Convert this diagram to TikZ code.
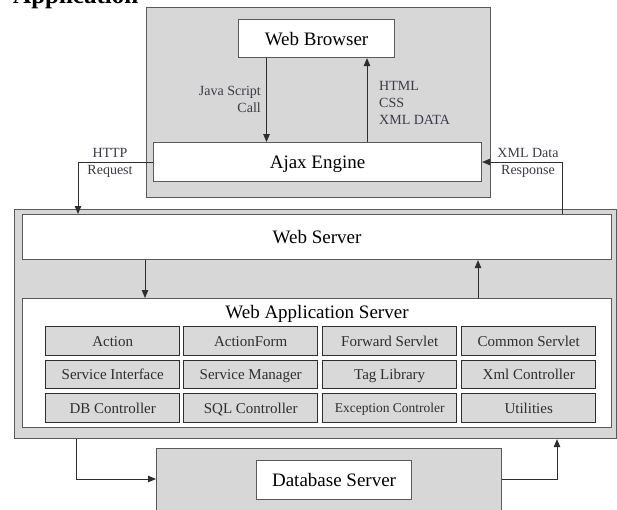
\documentclass[tikz,border=0pt]{standalone}
\usepackage{fontspec}
\setmainfont{Liberation Serif}
\usetikzlibrary{arrows.meta,calc}
\definecolor{panel}{HTML}{D7D7D7}
\definecolor{cellfill}{HTML}{D9D9D9}
\definecolor{edge}{HTML}{5A5A5A}
\definecolor{ink}{HTML}{2E2E2E}
\definecolor{lbl}{HTML}{3A3A48}
\tikzset{
  x=1pt, y=-1pt,
  panelbox/.style={draw=edge, line width=1.1pt, fill=panel, inner sep=0pt, anchor=north west},
  whitebox/.style={draw=edge, line width=1.1pt, fill=white, inner sep=0pt, anchor=north west,
    font=\fontsize{19}{22}\selectfont, text=black, text height=13pt, text depth=0pt},
  cellbox/.style={draw=ink, line width=1.4pt, fill=cellfill, inner sep=0pt, anchor=north west,
    minimum width=134pt, minimum height=28.5pt, font=\fontsize{15}{17}\selectfont, text=ink,
    text height=11pt, text depth=0pt},
  arr/.style={draw=ink, line width=0.9pt, -{Triangle[length=8pt,width=6.5pt]}},
  smalllbl/.style={font=\fontsize{14}{17}\selectfont, text=lbl, inner sep=0pt}
}
\begin{document}
\begin{tikzpicture}
\useasboundingbox (0,0) rectangle (617,509);
\clip (0,0) rectangle (617,509);

% caption running off the top edge
\node[anchor=base west, inner sep=0pt, font=\fontsize{25}{28}\selectfont\bfseries] (cap) at (13,3) {Application};

% client side
\node[panelbox, minimum width=344pt, minimum height=190pt] (client) at (146,7) {};
\node[whitebox, minimum width=156pt, minimum height=38pt] (wb) at (238,19) {Web Browser};
\node[whitebox, minimum width=328pt, minimum height=39pt] (ajax) at (153,142) {Ajax Engine};

% server side
\node[panelbox, minimum width=602pt, minimum height=229pt] (srv) at (14,209) {};
\node[whitebox, minimum width=589pt, minimum height=45pt] (ws) at (22,214) {Web Server};
\node[whitebox, minimum width=589pt, minimum height=129pt] (was) at (22,298) {};
\node[font=\fontsize{19}{22}\selectfont, inner sep=0pt, text height=13pt, text depth=0pt] (wastitle) at (317,312) {Web Application Server};

% component grid
\node[cellbox] (c11) at (45,326) {Action};
\node[cellbox] (c12) at (183,326) {ActionForm};
\node[cellbox] (c13) at (322,326) {Forward Servlet};
\node[cellbox] (c14) at (461,326) {Common Servlet};
\node[cellbox] (c21) at (45,359.5) {Service Interface};
\node[cellbox] (c22) at (183,359.5) {Service Manager};
\node[cellbox] (c23) at (322,359.5) {Tag Library};
\node[cellbox] (c24) at (461,359.5) {Xml Controller};
\node[cellbox] (c31) at (45,393) {DB Controller};
\node[cellbox] (c32) at (183,393) {SQL Controller};
\node[cellbox, font=\fontsize{13.5}{16}\selectfont, text height=10pt] (c33) at (322,393) {Exception Controler};
\node[cellbox] (c34) at (461,393) {Utilities};

% database tier
\node[panelbox, minimum width=345pt, minimum height=80pt] (dbc) at (156,448) {};
\node[whitebox, minimum width=155pt, minimum height=39pt] (db) at (256,460) {Database Server};

% bend points and lanes of the connectors
\coordinate (jsx) at (266.5,0);
\coordinate (htx) at (367,0);
\coordinate (httpc) at (78,162);
\coordinate (xmlc) at (562,162);
\coordinate (downx) at (145,0);
\coordinate (upx) at (478,0);
\coordinate (dbl) at (76,479);
\coordinate (dbr) at (557,479);

% browser <-> ajax
\draw[arr] (wb.south -| jsx) -- (ajax.north -| jsx);
\draw[arr] (ajax.north -| htx) -- (wb.south -| htx);
\node[smalllbl, align=right, anchor=east] (jslbl) at (261,99) {Java Script\\Call};
\node[smalllbl, align=left, anchor=west] (htlbl) at (379,103) {HTML\\CSS\\XML DATA};

% ajax <-> web server
\draw[arr] (ajax.west |- httpc) -- (httpc) -- (ws.north -| httpc);
\draw[arr] (ws.north -| xmlc) -- (xmlc) -- (ajax.east |- xmlc);
\node[smalllbl, align=center] (httplbl) at (110,162.5) {HTTP\\Request};
\node[smalllbl, align=center] (xmllbl) at (528,162.5) {XML Data\\Response};

% web server <-> application server
\draw[arr] (ws.south -| downx) -- (was.north -| downx);
\draw[arr] (was.north -| upx) -- (ws.south -| upx);

% server <-> database
\draw[arr] (srv.south -| dbl) -- (dbl) -- (dbc.west |- dbl);
\draw[arr] (dbc.east |- dbr) -- (dbr) -- (srv.south -| dbr);
\end{tikzpicture}
\end{document}
